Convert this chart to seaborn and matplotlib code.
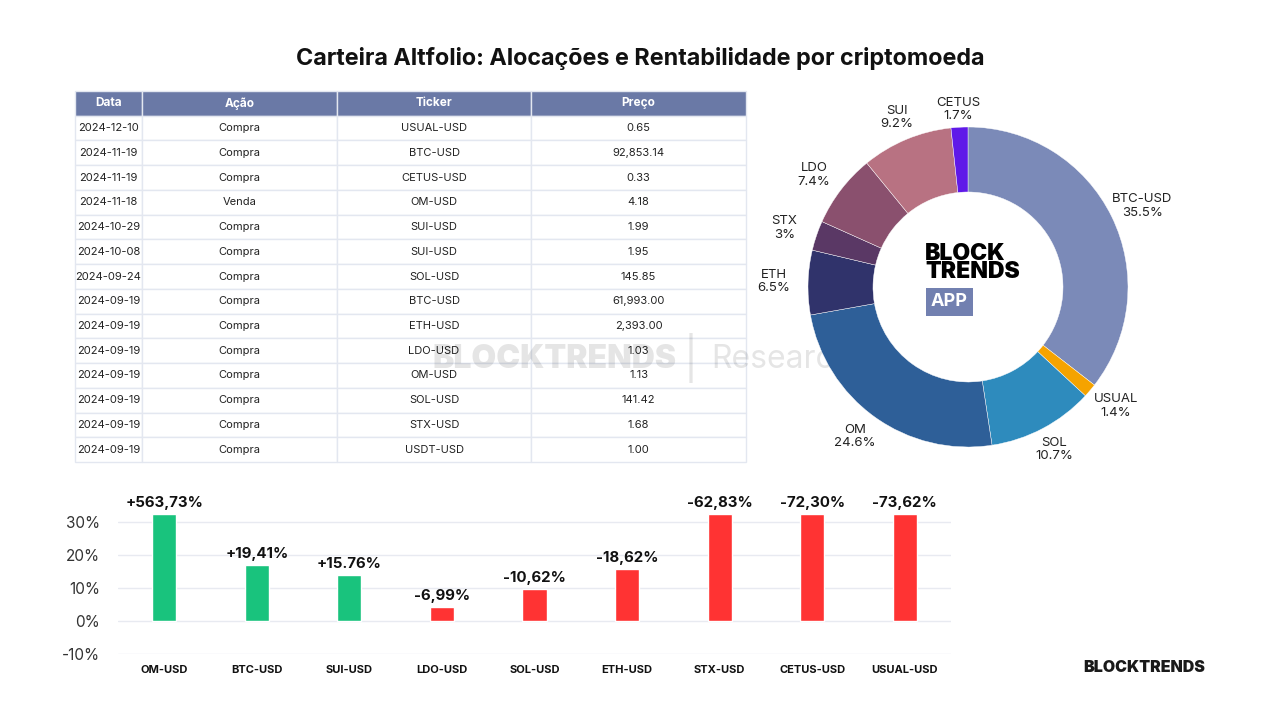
import numpy as np
import pandas as pd
import seaborn as sns
import matplotlib.pyplot as plt

# table data
datas = ['2024-12-10', '2024-11-19', '2024-11-19', '2024-11-18', '2024-10-29', '2024-10-08',
         '2024-09-24', '2024-09-19', '2024-09-19', '2024-09-19', '2024-09-19', '2024-09-19',
         '2024-09-19', '2024-09-19']
acoes = ['Compra', 'Compra', 'Compra', 'Venda', 'Compra', 'Compra', 'Compra', 'Compra',
         'Compra', 'Compra', 'Compra', 'Compra', 'Compra', 'Compra']
tickers = ['USUAL-USD', 'BTC-USD', 'CETUS-USD', 'OM-USD', 'SUI-USD', 'SUI-USD', 'SOL-USD',
           'BTC-USD', 'ETH-USD', 'LDO-USD', 'OM-USD', 'SOL-USD', 'STX-USD', 'USDT-USD']
precos = ['0.65', '92,853.14', '0.33', '4.18', '1.99', '1.95', '145.85', '61,993.00',
          '2,393.00', '1.03', '1.13', '141.42', '1.68', '1.00']

# donut data
pie_labels = ['BTC-USD', 'USUAL', 'SOL', 'OM', 'ETH', 'STX', 'LDO', 'SUI', 'CETUS']
pie_values = [35.5, 1.4, 10.7, 24.6, 6.5, 3.0, 7.4, 9.2, 1.7]
pie_pct = ['35.5%', '1.4%', '10.7%', '24.6%', '6.5%', '3%', '7.4%', '9.2%', '1.7%']
pie_colors = ['#7b8ab8', '#f5a300', '#2e8bbd', '#2e5f98', '#30336b', '#5a3865',
              '#8a506e', '#b87282', '#5f19e8']

# bar data (heights as drawn in the reference)
bar_cats = ['OM-USD', 'BTC-USD', 'SUI-USD', 'LDO-USD', 'SOL-USD', 'ETH-USD',
            'STX-USD', 'CETUS-USD', 'USUAL-USD']
bar_heights = [32.5, 17.0, 13.9, 4.2, 9.7, 15.8, 32.5, 32.5, 32.5]
bar_texts = ['+563,73%', '+19,41%', '+15.76%', '-6,99%', '-10,62%', '-18,62%',
             '-62,83%', '-72,30%', '-73,62%']
bar_sign = ['pos', 'pos', 'pos', 'neg', 'neg', 'neg', 'neg', 'neg', 'neg']

sns.set_theme(style='white')
plt.rcParams['font.family'] = ['Inter', 'DejaVu Sans']

fig = plt.figure(figsize=(12.8, 7.2), dpi=100)
W, H = 1280, 720

def box(x0, y0, x1, y1):
    return [x0 / W, 1 - y1 / H, (x1 - x0) / W, (y1 - y0) / H]

fig.text(0.5, 1 - 59 / H, 'Carteira Altfolio: Alocações e Rentabilidade por criptomoeda',
         ha='center', va='center', fontsize=16.8, fontweight='bold', color='#111111')

# watermark (between table and donut)
fig.text(432 / W, 1 - 360 / H, 'BLOCKTRENDS', fontsize=23, fontweight='black',
         color='#000000', alpha=0.10, ha='left', va='center', zorder=5)
fig.text(691 / W, 1 - 358 / H, '|', fontsize=30, color='#000000', alpha=0.10,
         ha='center', va='center', zorder=5)
fig.text(711 / W, 1 - 360 / H, 'Research', fontsize=23, color='#000000', alpha=0.10,
         ha='left', va='center', zorder=5)

# ---- table ----
ax_t = fig.add_axes(box(75, 91, 746, 462))
ax_t.axis('off')
df = pd.DataFrame({'Data': datas, 'Ação': acoes, 'Ticker': tickers, 'Preço': precos})
tbl = ax_t.table(cellText=df.values, colLabels=df.columns, cellLoc='center',
                 colWidths=[67, 195, 194, 215], bbox=[0, 0, 1, 1])
tbl.auto_set_font_size(False)
for (r, c), cell in tbl.get_celld().items():
    cell.set_edgecolor('#e3e7f0')
    cell.set_linewidth(1)
    if r == 0:
        cell.set_facecolor('#6a79a6')
        cell.get_text().set_color('white')
        cell.get_text().set_fontweight('bold')
        cell.get_text().set_fontsize(8.5)
    else:
        cell.set_facecolor('white')
        cell.get_text().set_color('#222222')
        cell.get_text().set_fontsize(8)

# ---- donut ----
ax_p = fig.add_axes(box(968 - 200, 287 - 200, 968 + 200, 287 + 200), zorder=10)
ax_p.patch.set_visible(False)
wedges, _ = ax_p.pie(pie_values, colors=pie_colors, startangle=90, counterclock=False,
                     radius=0.8, wedgeprops=dict(width=0.325, edgecolor='white', linewidth=0.3))
ax_p.set_xlim(-1, 1)
ax_p.set_ylim(-1, 1)
ax_p.set_aspect('equal')
for w, name, pct in zip(wedges, pie_labels, pie_pct):
    ang = np.deg2rad((w.theta1 + w.theta2) / 2)
    r = 0.92
    dx = 0.05 * np.cos(ang) if abs(np.cos(ang)) > 0.5 else 0
    ax_p.text(r * np.cos(ang) + dx, r * np.sin(ang) - 0.03 * (np.sin(ang) > 0.95), f'{name}\n{pct}',
              ha='center', va='center', fontsize=9.5, color='#222222', linespacing=1.15)
ax_p.text(-0.215, 0.12, 'BLOCK\nTRENDS', ha='left', va='center', fontsize=16.5,
          fontweight='black', color='black', linespacing=0.82)
ax_p.text(-0.185, -0.075, 'APP', ha='left', va='center', fontsize=13, fontweight='bold',
          color='white',
          bbox=dict(boxstyle='square,pad=0.3', facecolor='#7280b0', edgecolor='none'))

# ---- bars ----
ax_b = fig.add_axes(box(118, 505.5, 951, 654))
bdf = pd.DataFrame({'cat': bar_cats, 'val': bar_heights, 'sign': bar_sign})
sns.barplot(data=bdf, x='cat', y='val', hue='sign', palette={'pos': '#19c37d', 'neg': '#ff3333'},
            dodge=False, width=0.26, legend=False, ax=ax_b, zorder=3, saturation=1)
ax_b.set_ylim(-10, 35)
ax_b.set_xlim(-0.5, 8.5)
ax_b.set_yticks([-10, 0, 10, 20, 30])
ax_b.set_yticklabels(['-10%', '0%', '10%', '20%', '30%'], fontsize=11, color='#333333')
ax_b.set_xticks(range(len(bar_cats)))
ax_b.set_xticklabels(bar_cats, fontsize=8, fontweight='bold', color='#111111')
ax_b.tick_params(axis='y', length=0, pad=13)
ax_b.tick_params(axis='x', length=0, pad=8)
ax_b.set_xlabel('')
ax_b.set_ylabel('')
ax_b.grid(axis='y', color='#e8eaf1', linewidth=1, zorder=0)
for s in ax_b.spines.values():
    s.set_visible(False)
for i, (h, t) in enumerate(zip(bar_heights, bar_texts)):
    ax_b.text(i, h + 1.2, t, ha='center', va='bottom', fontsize=10.8, fontweight='bold',
              color='#111111', clip_on=False)

fig.text(1144 / W, 1 - 668 / H, 'BLOCKTRENDS', ha='center', va='center', fontsize=11.5,
         fontweight='black', color='#1a1a1a')

fig.savefig('out.png', dpi=100)
